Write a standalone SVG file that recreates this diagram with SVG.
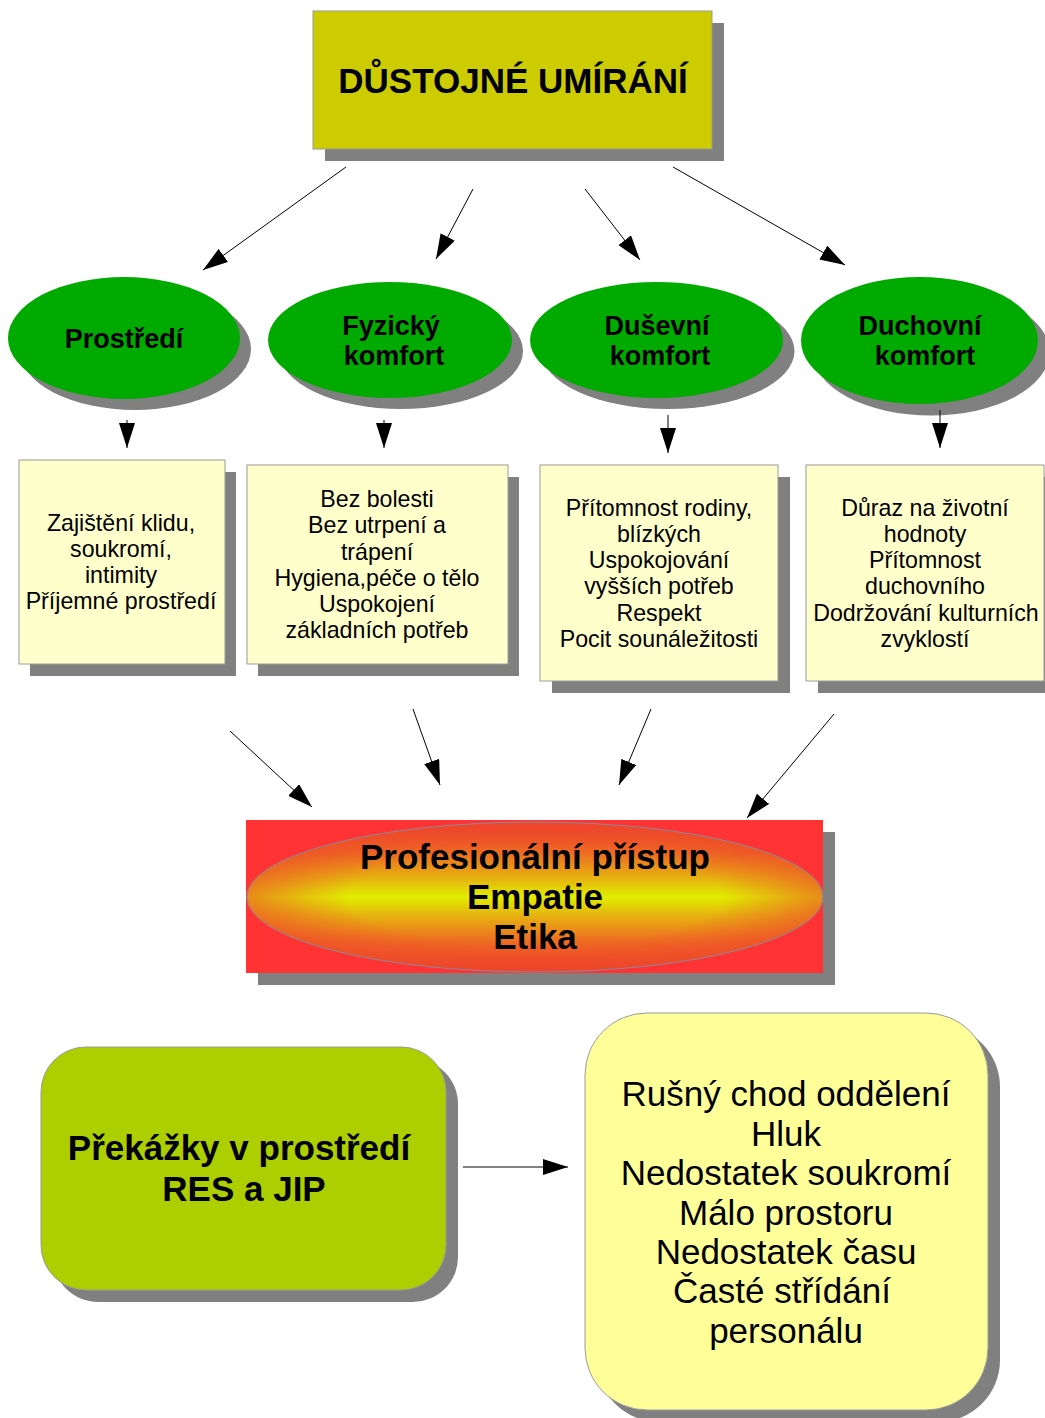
<svg xmlns="http://www.w3.org/2000/svg" width="1045" height="1418" viewBox="0 0 1045 1418">
<style>
  .shadow { fill: #808080; }
  .title { fill: #CCCC00; stroke: #9a9a9a; stroke-width: 1; }
  .ell { fill: #00AA00; }
  .box { fill: #FFFFCC; stroke: #9a9a9a; stroke-width: 1; }
  .red { fill: #FF3333; }
  .green { fill: #ADCF00; stroke: #9a9a9a; stroke-width: 1; }
  .yellow { fill: #FFFF99; stroke: #9a9a9a; stroke-width: 1; }
  .tb { font-family: "Liberation Sans", Arial, sans-serif; font-weight: bold; fill: #000; text-anchor: middle; }
  .tr { font-family: "Liberation Sans", Arial, sans-serif; fill: #000; text-anchor: middle; }
  .conn line { stroke: #000; stroke-width: 1; fill: none; marker-end: url(#ah); }
</style>
<defs>
  <marker id="ah" markerUnits="userSpaceOnUse" markerWidth="26" markerHeight="16" refX="25" refY="8" orient="auto" viewBox="0 0 26 16">
    <path d="M0,0 L25,8 L0,16 z" fill="#000"/>
  </marker>
  <linearGradient id="gv" x1="0" y1="0" x2="0" y2="1">
    <stop offset="0" stop-color="#EE3A2E"/>
    <stop offset="0.2" stop-color="#EE6A22"/>
    <stop offset="0.38" stop-color="#E6B410"/>
    <stop offset="0.5" stop-color="#E0EE00"/>
    <stop offset="0.62" stop-color="#E6B410"/>
    <stop offset="0.8" stop-color="#EE6A22"/>
    <stop offset="1" stop-color="#EE3A2E"/>
  </linearGradient>
  <radialGradient id="gr" cx="0.5" cy="0.5" r="0.5">
    <stop offset="0.65" stop-color="#EE4A2A" stop-opacity="0"/>
    <stop offset="1" stop-color="#EE4A2A" stop-opacity="0.6"/>
  </radialGradient>
</defs>

<g id="title">
  <rect class="shadow" x="325" y="23" width="399" height="138"/>
  <rect class="title" x="313" y="11" width="399" height="138"/>
  <text class="tb" x="513" y="93" font-size="35">DŮSTOJNÉ UMÍRÁNÍ</text>
</g>

<g id="prostredi">
  <ellipse class="shadow" cx="135" cy="349" rx="116" ry="61"/>
  <ellipse class="ell" cx="124" cy="338" rx="116" ry="61"/>
  <text class="tb" x="124" y="348" font-size="27">Prostředí</text>
</g>
<g id="fyzicky">
  <ellipse class="shadow" cx="401" cy="351" rx="122" ry="58"/>
  <ellipse class="ell" cx="390" cy="340" rx="122" ry="58"/>
  <text class="tb" font-size="27"><tspan x="391" y="335">Fyzický</tspan><tspan x="394" y="365">komfort</tspan></text>
</g>
<g id="dusevni">
  <ellipse class="shadow" cx="668" cy="351" rx="126.5" ry="58"/>
  <ellipse class="ell" cx="656.5" cy="340" rx="126.5" ry="58"/>
  <text class="tb" font-size="27"><tspan x="657" y="335">Duševní</tspan><tspan x="660" y="365">komfort</tspan></text>
</g>
<g id="duchovni">
  <ellipse class="shadow" cx="931" cy="352" rx="118.5" ry="63.5"/>
  <ellipse class="ell" cx="919.5" cy="340.5" rx="118.5" ry="63.5"/>
  <text class="tb" font-size="27"><tspan x="920" y="335">Duchovní</tspan><tspan x="925" y="365">komfort</tspan></text>
</g>

<g id="box1">
  <rect class="shadow" x="30" y="472" width="206" height="204"/>
  <rect class="box" x="19" y="460" width="206" height="204"/>
  <text class="tr" font-size="23.2"><tspan x="121" y="531">Zajištění klidu,</tspan><tspan x="121" y="557">soukromí,</tspan><tspan x="121" y="583">intimity</tspan><tspan x="121" y="609">Příjemné prostředí</tspan></text>
</g>
<g id="box2">
  <rect class="shadow" x="258" y="477" width="261" height="199"/>
  <rect class="box" x="247" y="465" width="261" height="199"/>
  <text class="tr" font-size="23.2"><tspan x="377" y="507">Bez bolesti</tspan><tspan x="377" y="533">Bez utrpení a</tspan><tspan x="377" y="560">trápení</tspan><tspan x="377" y="586">Hygiena,péče o tělo</tspan><tspan x="377" y="612">Uspokojení</tspan><tspan x="377" y="638">základních potřeb</tspan></text>
</g>
<g id="box3">
  <rect class="shadow" x="552" y="477" width="238" height="216"/>
  <rect class="box" x="540" y="465" width="238" height="216"/>
  <text class="tr" font-size="23.2"><tspan x="659" y="516">Přítomnost rodiny,</tspan><tspan x="659" y="542">blízkých</tspan><tspan x="659" y="568">Uspokojování</tspan><tspan x="659" y="594">vyšších potřeb</tspan><tspan x="659" y="621">Respekt</tspan><tspan x="659" y="647">Pocit sounáležitosti</tspan></text>
</g>
<g id="box4">
  <rect class="shadow" x="818" y="477" width="238" height="216"/>
  <rect class="box" x="806" y="465" width="238" height="216"/>
  <text class="tr" font-size="23.2"><tspan x="925" y="516">Důraz na životní</tspan><tspan x="925" y="542">hodnoty</tspan><tspan x="925" y="568">Přítomnost</tspan><tspan x="925" y="594">duchovního</tspan><tspan x="926" y="621">Dodržování kulturních</tspan><tspan x="925" y="647">zvyklostí</tspan></text>
</g>

<g id="center">
  <rect class="shadow" x="258" y="832" width="577" height="153"/>
  <rect class="red" x="246" y="820" width="577" height="153"/>
  <ellipse cx="535" cy="897" rx="288" ry="75" fill="url(#gv)"/>
  <ellipse cx="535" cy="897" rx="288" ry="75" fill="url(#gr)" stroke="#8a8a9a" stroke-width="1"/>
  <text class="tb" font-size="35"><tspan x="535" y="869">Profesionální přístup</tspan><tspan x="535" y="909">Empatie</tspan><tspan x="535" y="949">Etika</tspan></text>
</g>

<g id="prekazky">
  <rect class="shadow" x="53" y="1059" width="405" height="243" rx="45"/>
  <rect class="green" x="41" y="1047" width="405" height="243" rx="45"/>
  <text class="tb" font-size="35"><tspan x="239" y="1160">Překážky v prostředí</tspan><tspan x="244" y="1201">RES a JIP</tspan></text>
</g>

<g id="seznam">
  <rect class="shadow" x="597" y="1025" width="403" height="397" rx="62"/>
  <rect class="yellow" x="585" y="1013" width="403" height="397" rx="62"/>
  <text class="tr" font-size="35"><tspan x="786" y="1106">Rušný chod oddělení</tspan><tspan x="786" y="1146">Hluk</tspan><tspan x="786" y="1185">Nedostatek soukromí</tspan><tspan x="786" y="1225">Málo prostoru</tspan><tspan x="786" y="1264">Nedostatek času</tspan><tspan x="782" y="1303">Časté střídání</tspan><tspan x="786" y="1343">personálu</tspan></text>
</g>

<g id="connectors" class="conn">
  <line x1="346" y1="167" x2="203" y2="270"/>
  <line x1="473" y1="189" x2="436" y2="259"/>
  <line x1="585" y1="189" x2="640" y2="260"/>
  <line x1="673" y1="167" x2="845" y2="265"/>
  <line x1="127" y1="420" x2="127" y2="448"/>
  <line x1="384" y1="420" x2="384" y2="448"/>
  <line x1="668" y1="415" x2="668" y2="453"/>
  <line x1="940" y1="410" x2="940" y2="448"/>
  <line x1="230" y1="731" x2="312" y2="807"/>
  <line x1="413" y1="709" x2="440" y2="785"/>
  <line x1="651" y1="709" x2="619" y2="785"/>
  <line x1="834" y1="714" x2="747" y2="818"/>
  <line x1="463" y1="1167" x2="568" y2="1167"/>
</g>
</svg>
